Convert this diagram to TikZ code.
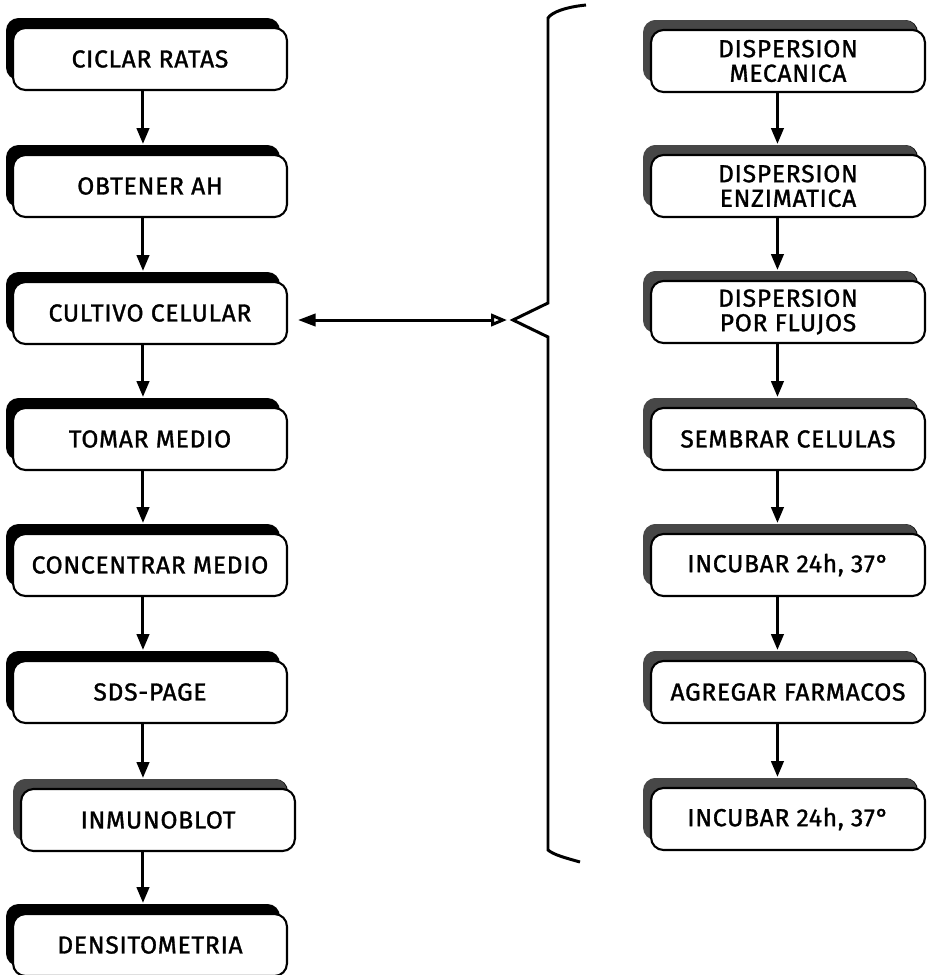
\documentclass[tikz,border=0pt]{standalone}
\usepackage{fontspec}
\usepackage{tikz}
\usetikzlibrary{arrows.meta,shadows,calc,positioning}
\newfontfamily\pasofont[LetterSpace=3,FakeBold=1.3]{Fira Sans}

\begin{document}
\begin{tikzpicture}[x=0.02cm,y=-0.02cm,
  paso/.style={draw,line width=1.2pt,rounded corners=0.25cm,fill=white,
    minimum width=5.48cm,minimum height=1.24cm,align=center,
    font=\pasofont\fontsize{14}{14}\selectfont,
    drop shadow={shadow xshift=-0.14cm,shadow yshift=0.2cm,fill=black,opacity=1}},
  pasogris/.style={paso,
    drop shadow={shadow xshift=-0.16cm,shadow yshift=0.2cm,fill=black!72,opacity=1}},
  flecha/.style={-{Triangle[length=9pt,width=7pt]},line width=1.7pt}]
\useasboundingbox (0,0) rectangle (927,975);

%--- Left column: main procedure ----------------------------------------------
\node[paso] (ciclar) at (150,59) {CICLAR RATAS};
\node[paso] (obtener) at (150,186) {OBTENER AH};
\node[paso] (cultivo) at (150,313) {CULTIVO CELULAR};
\node[paso] (tomar) at (150,439) {TOMAR MEDIO};
\node[paso] (concentrar) at (150,565) {CONCENTRAR MEDIO};
\node[paso] (sds) at (150,692) {SDS-PAGE};
\node[pasogris] (inmuno) at (158,820) {INMUNOBLOT};
\node[paso] (densito) at (150,945) {DENSITOMETRIA};

\draw[flecha] ([xshift=-4pt]ciclar.south) -- ([xshift=-4pt,yshift=0.2cm]obtener.north);
\draw[flecha] ([xshift=-4pt]obtener.south) -- ([xshift=-4pt,yshift=0.2cm]cultivo.north);
\draw[flecha] ([xshift=-4pt]cultivo.south) -- ([xshift=-4pt,yshift=0.2cm]tomar.north);
\draw[flecha] ([xshift=-4pt]tomar.south) -- ([xshift=-4pt,yshift=0.2cm]concentrar.north);
\draw[flecha] ([xshift=-4pt]concentrar.south) -- ([xshift=-4pt,yshift=0.2cm]sds.north);
\draw[flecha] ([xshift=-4pt]sds.south) -- ([xshift=-4pt,yshift=0.2cm]inmuno.north-|sds.south);
\draw[flecha] ([xshift=-4pt]inmuno.south-|sds.south) -- ([xshift=-4pt,yshift=0.2cm]densito.north);

%--- Right column: cell culture detail -----------------------------------------
\node[pasogris] (mecanica) at (788,61) {DISPERSION\\MECANICA};
\node[pasogris] (enzimatica) at (788,186) {DISPERSION\\ENZIMATICA};
\node[pasogris] (flujos) at (788,312) {DISPERSION\\POR FLUJOS};
\node[pasogris] (sembrar) at (788,439) {SEMBRAR CELULAS};
\node[pasogris] (incubarA) at (788,565) {INCUBAR 24h, 37°};
\node[pasogris] (agregar) at (788,692) {AGREGAR FARMACOS};
\node[pasogris] (incubarB) at (788,819) {INCUBAR 24h, 37°};

\draw[flecha] ([xshift=-6pt]mecanica.south) -- ([xshift=-6pt,yshift=0.2cm]enzimatica.north);
\draw[flecha] ([xshift=-6pt]enzimatica.south) -- ([xshift=-6pt,yshift=0.2cm]flujos.north);
\draw[flecha] ([xshift=-6pt]flujos.south) -- ([xshift=-6pt,yshift=0.2cm]sembrar.north);
\draw[flecha] ([xshift=-6pt]sembrar.south) -- ([xshift=-6pt,yshift=0.2cm]incubarA.north);
\draw[flecha] ([xshift=-6pt]incubarA.south) -- ([xshift=-6pt,yshift=0.2cm]agregar.north);
\draw[flecha] ([xshift=-6pt]agregar.south) -- ([xshift=-6pt,yshift=0.2cm]incubarB.north);

%--- Brace and link ------------------------------------------------------------
\coordinate (punta) at (513,320);
\draw[line width=1.7pt,line join=miter]
  (586,5) .. controls (566,7) and (552,12) .. (548,18) -- (548,303) -- (punta)
  -- (548,337) -- (548,850) .. controls (554,855) and (566,858) .. (580,862);
\draw[{Triangle[length=10pt,width=7pt]}-{Triangle[open,length=9pt,width=7pt]},line width=1.7pt]
  ([xshift=0.2cm]cultivo.east|-punta) -- ([xshift=-0.12cm]punta);

\end{tikzpicture}
\end{document}
